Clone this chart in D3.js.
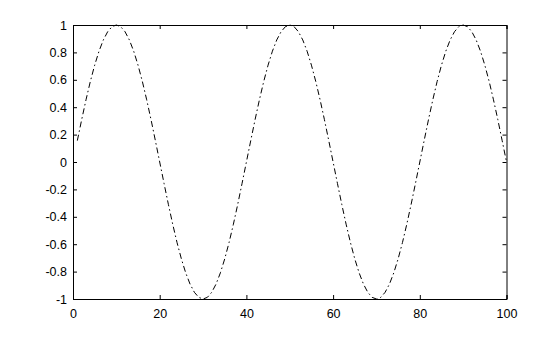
<!DOCTYPE html>
<meta charset="utf-8">
<style>
  body { margin: 0; background: #fff; }
  text { font-family: "Liberation Sans", Helvetica, Arial, sans-serif; font-size: 12.5px; fill: #000; }
</style>
<svg id="chart" width="560" height="337"></svg>
<script src="https://cdn.jsdelivr.net/npm/d3@7"></script>
<script>
// x values 1..100, y (period of 40, peak at 10, 50, 90)
var xs = d3.range(1, 101);
var cycle = [0.156, 0.309, 0.454, 0.588, 0.707, 0.809, 0.891, 0.951, 0.988, 1,
             0.988, 0.951, 0.891, 0.809, 0.707, 0.588, 0.454, 0.309, 0.156, 0,
             -0.156, -0.309, -0.454, -0.588, -0.707, -0.809, -0.891, -0.951, -0.988, -1,
             -0.988, -0.951, -0.891, -0.809, -0.707, -0.588, -0.454, -0.309, -0.156, 0];
var ys = cycle.concat(cycle, cycle.slice(0, 20));
var xTicks = [0, 20, 40, 60, 80, 100];
var yTicks = [-1, -0.8, -0.6, -0.4, -0.2, 0, 0.2, 0.4, 0.6, 0.8, 1];

var svg = d3.select("#chart");
var pLeft = 73, pRight = 506.5, pTop = 25, pBottom = 299;

var x = d3.scaleLinear().domain([0, 100]).range([pLeft, pRight]);
var y = d3.scaleLinear().domain([-1, 1]).range([pBottom, pTop]);

var tickFmt = d => String(+d.toFixed(1));

// axes with inward ticks, mirrored on top/right
svg.append("g").attr("transform", "translate(0," + pBottom + ")")
  .call(d3.axisBottom(x).tickValues(xTicks).tickSize(-4).tickPadding(10).tickFormat(tickFmt));
svg.append("g").attr("transform", "translate(0," + pTop + ")")
  .call(d3.axisTop(x).tickValues(xTicks).tickSize(-4).tickFormat(""));
svg.append("g").attr("transform", "translate(" + pLeft + ",0)")
  .call(d3.axisLeft(y).tickValues(yTicks).tickSize(-4).tickPadding(6).tickFormat(tickFmt));
svg.append("g").attr("transform", "translate(" + pRight + ",0)")
  .call(d3.axisRight(y).tickValues(yTicks).tickSize(-4).tickFormat(""));

svg.selectAll(".domain, .tick line").attr("stroke", "#000").attr("stroke-width", 1);
svg.selectAll(".tick text").style("font-size", "12.5px").attr("fill", "#000");

var line = d3.line().x((d, i) => x(xs[i])).y(d => y(d));
svg.append("path")
  .datum(ys)
  .attr("d", line)
  .attr("fill", "none")
  .attr("stroke", "#000")
  .attr("stroke-width", 1)
  .attr("stroke-dasharray", "6,3,1.5,3");
</script>
